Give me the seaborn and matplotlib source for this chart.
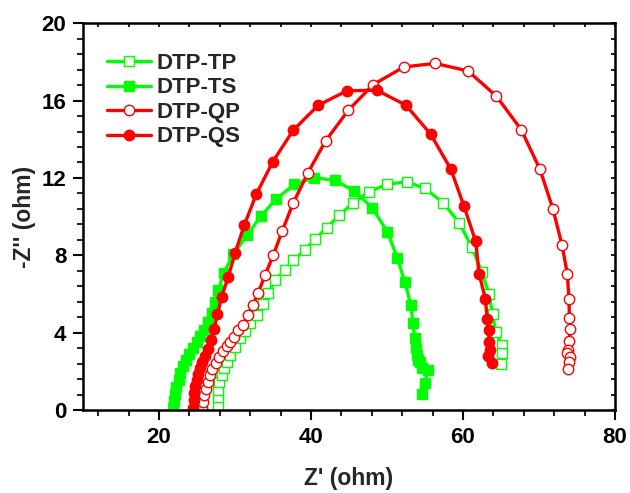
import matplotlib
matplotlib.use("Agg")
import matplotlib.pyplot as plt
from matplotlib.ticker import MultipleLocator
import pandas as pd
import seaborn as sns

# Nyquist data (Z' and -Z'' in ohm)
tp_x = [27.80, 27.72, 27.80, 27.96, 28.25, 28.55, 28.91, 29.34, 30.0, 30.66, 31.32, 31.97,
        32.86, 33.72, 34.38, 35.26, 36.58, 37.67, 39.21, 40.53, 42.07, 43.72, 45.57, 47.63,
        50.04, 52.59, 55.0, 57.41, 59.51, 61.14, 62.46, 63.42, 63.91, 64.30, 65.09, 65.09, 65.0]
tp_y = [0.22, 0.66, 1.03, 1.45, 1.81, 2.16, 2.50, 2.84, 3.27, 3.71, 4.11, 4.48,
        4.91, 5.51, 6.03, 6.72, 7.24, 7.75, 8.27, 8.84, 9.42, 10.08, 10.71, 11.28,
        11.68, 11.80, 11.46, 10.71, 9.68, 8.44, 7.15, 5.99, 4.95, 4.05, 3.36, 2.98, 2.41]

ts_x = [21.84, 21.97, 22.11, 22.30, 22.57, 22.83, 23.22, 23.62, 24.01, 24.47, 25.0, 25.46,
        25.86, 26.45, 26.93, 27.37, 27.83, 28.49, 29.80, 31.58, 33.42, 35.46, 37.83, 40.46,
        43.16, 45.70, 48.07, 50.04, 51.36, 52.37, 53.12, 53.42, 53.64, 53.82, 53.91, 54.04,
        54.34, 54.64, 55.36, 55.0, 54.64]
ts_y = [0.10, 0.47, 0.83, 1.19, 1.55, 1.91, 2.27, 2.58, 2.89, 3.20, 3.51, 3.82,
        4.13, 4.55, 5.01, 5.58, 6.20, 7.08, 8.06, 9.04, 10.03, 10.93, 11.67, 12.02,
        11.87, 11.33, 10.45, 9.23, 7.87, 6.60, 5.46, 4.53, 3.74, 3.19, 2.84, 2.58,
        2.50, 2.16, 2.07, 1.38, 0.86]

qp_x = [25.62, 25.75, 25.96, 26.18, 26.45, 26.71, 27.01, 27.46, 27.89, 28.38, 28.91, 29.34,
        29.87, 30.43, 31.09, 31.67, 32.41, 33.07, 33.95, 35.04, 36.22, 37.67, 39.61, 41.93,
        44.91, 48.20, 52.24, 56.36, 60.66, 64.39, 67.67, 70.13, 71.84, 73.03, 73.72, 73.95,
        73.99, 74.08, 73.99, 73.78, 73.62, 74.08, 73.99, 73.82]
qp_y = [0.09, 0.43, 0.78, 1.12, 1.46, 1.81, 2.12, 2.44, 2.75, 3.05, 3.31, 3.53,
        3.76, 4.13, 4.39, 4.91, 5.46, 6.08, 6.98, 8.01, 9.27, 10.71, 12.28, 13.92,
        15.50, 16.83, 17.74, 17.92, 17.53, 16.23, 14.49, 12.44, 10.39, 8.53, 7.06, 5.72,
        4.77, 4.19, 3.58, 3.10, 2.95, 2.75, 2.50, 2.12]

qs_x = [24.51, 24.58, 24.67, 24.80, 24.96, 25.13, 25.37, 25.66, 26.05, 26.41, 26.80, 27.28,
        27.67, 28.25, 29.12, 30.0, 31.22, 32.80, 34.96, 37.67, 40.96, 44.70, 48.64, 52.50,
        55.75, 58.42, 60.13, 61.67, 62.11, 62.93, 63.20, 63.38, 63.46, 63.55, 63.29, 63.78]
qs_y = [0.10, 0.52, 0.88, 1.24, 1.55, 1.86, 2.17, 2.48, 2.79, 3.15, 3.65, 4.22,
        4.95, 5.86, 6.89, 8.10, 9.56, 11.16, 12.83, 14.47, 15.76, 16.50, 16.54, 15.76,
        14.26, 12.44, 10.54, 8.72, 7.06, 5.77, 4.70, 4.13, 3.50, 3.10, 2.79, 2.44]

GREEN = "#00ff00"
RED = "#ff0000"

sns.set_style("white")
plt.rcParams["font.family"] = ["Liberation Sans", "DejaVu Sans"]
plt.rcParams["font.weight"] = "bold"

fig = plt.figure(figsize=(6.3, 4.93), dpi=100)
ax = fig.add_axes([0.1317, 0.168, 0.8445, 0.785])

series = [
    ("DTP-TP", tp_x, tp_y, GREEN, "s", "white"),
    ("DTP-TS", ts_x, ts_y, GREEN, "s", GREEN),
    ("DTP-QP", qp_x, qp_y, RED, "o", "white"),
    ("DTP-QS", qs_x, qs_y, RED, "o", RED),
]

for label, xs, ys, color, marker, face in series:
    df = pd.DataFrame({"x": xs, "y": ys})
    sns.lineplot(
        data=df, x="x", y="y", ax=ax, sort=False, estimator=None,
        color=color, linewidth=2.4, marker=marker, markersize=7.5,
        markerfacecolor=face, markeredgecolor=color, markeredgewidth=1.0,
        label=label,
    )

ax.set_xlim(10, 80)
ax.set_ylim(0, 20)
ax.xaxis.set_major_locator(MultipleLocator(20))
ax.xaxis.set_minor_locator(MultipleLocator(4))
ax.yaxis.set_major_locator(MultipleLocator(4))
ax.yaxis.set_minor_locator(MultipleLocator(0.8))

for sp in ax.spines.values():
    sp.set_linewidth(1.8)
    sp.set_color("black")

ax.tick_params(which="major", direction="out", length=7, width=1.5,
               labelsize=16, pad=5, colors="black")
ax.tick_params(which="minor", direction="out", length=4, width=1.5)
ax.tick_params(bottom=True, left=True, top=False, right=False, which="both")

# small inward ticks on the top and right frame
top = ax.secondary_xaxis("top")
top.xaxis.set_major_locator(MultipleLocator(4))
top.tick_params(direction="in", length=3, width=1.5, labeltop=False)
right = ax.secondary_yaxis("right")
right.yaxis.set_major_locator(MultipleLocator(0.8))
right.tick_params(direction="in", length=3, width=1.5, labelright=False)

ax.set_xlabel("Z' (ohm)", fontsize=16.5, fontweight="bold", labelpad=14)
ax.set_ylabel("-Z'' (ohm)", fontsize=16.5, fontweight="bold", labelpad=4)

leg = ax.legend(loc="upper left", bbox_to_anchor=(0.02, 0.958), frameon=False,
                fontsize=16, handlelength=2.0, handletextpad=0.25,
                labelspacing=0.16, borderaxespad=0.2, numpoints=1)
for t in leg.get_texts():
    t.set_fontweight("bold")

fig.savefig("out.png", dpi=100)
